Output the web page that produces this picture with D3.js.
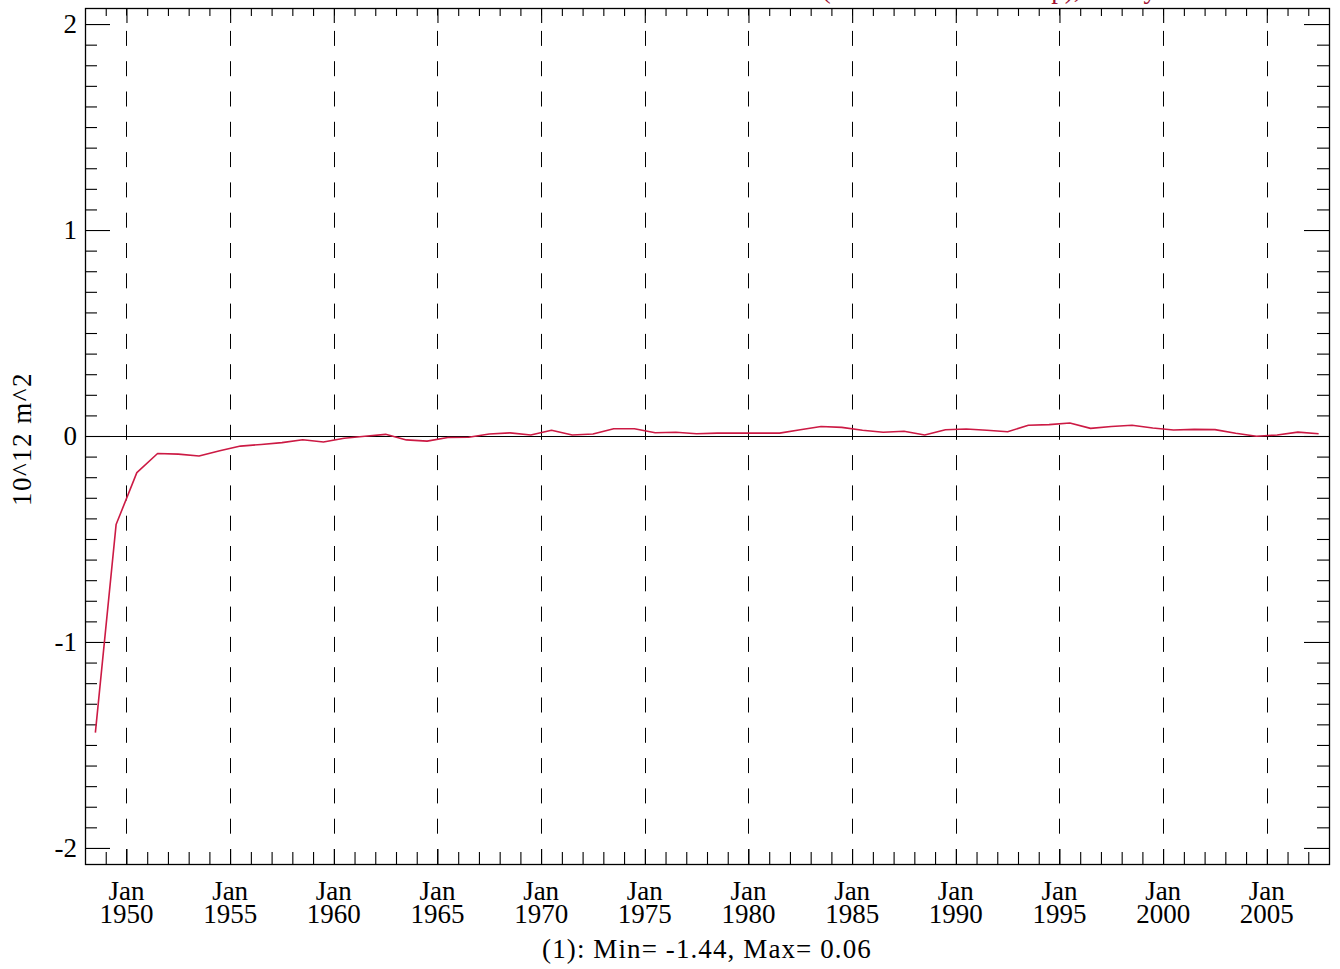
<!DOCTYPE html>
<html>
<head>
<meta charset="utf-8">
<script src="https://cdn.jsdelivr.net/npm/d3@7"></script>
<style>
  html, body { margin: 0; padding: 0; background: #fff; }
  svg { display: block; }
  text { font-family: "Liberation Serif", "DejaVu Serif", serif; fill: #000; }
</style>
</head>
<body>
<svg id="chart" width="1340" height="969"></svg>
<script>
// ---- data ----
const years = [1948,1949,1950,1951,1952,1953,1954,1955,1956,1957,
               1958,1959,1960,1961,1962,1963,1964,1965,1966,1967,
               1968,1969,1970,1971,1972,1973,1974,1975,1976,1977,
               1978,1979,1980,1981,1982,1983,1984,1985,1986,1987,
               1988,1989,1990,1991,1992,1993,1994,1995,1996,1997,
               1998,1999,2000,2001,2002,2003,2004,2005,2006,2007];
const values = [-1.44,-0.43,-0.178,-0.085,-0.088,-0.097,-0.072,-0.049,-0.041,-0.032,
                -0.018,-0.029,-0.011,-0.001,0.008,-0.019,-0.025,-0.007,-0.006,0.010,
                0.015,0.005,0.028,0.005,0.010,0.035,0.035,0.016,0.018,0.011,
                0.014,0.014,0.014,0.014,0.030,0.046,0.042,0.028,0.018,0.023,
                0.005,0.030,0.034,0.028,0.021,0.052,0.055,0.063,0.037,0.046,
                0.052,0.039,0.029,0.032,0.031,0.013,-0.001,0.005,0.019,0.011];
const majorYears = [1950,1955,1960,1965,1970,1975,1980,1985,1990,1995,2000,2005];
const minorYears = [1949,1951,1952,1953,1954,1956,1957,1958,1959,1961,1962,1963,1964,
                    1966,1967,1968,1969,1971,1972,1973,1974,1976,1977,1978,1979,
                    1981,1982,1983,1984,1986,1987,1988,1989,1991,1992,1993,1994,
                    1996,1997,1998,1999,2001,2002,2003,2004,2006,2007];
const yMajor = [-2,-1,0,1,2];
const yMajorLabels = ["-2","-1","0","1","2"];
const yMinor = [-1.9,-1.8,-1.7,-1.6,-1.5,-1.4,-1.3,-1.2,-1.1,
                -0.9,-0.8,-0.7,-0.6,-0.5,-0.4,-0.3,-0.2,-0.1,
                0.1,0.2,0.3,0.4,0.5,0.6,0.7,0.8,0.9,
                1.1,1.2,1.3,1.4,1.5,1.6,1.7,1.8,1.9];
const monthLabel = "Jan";
const yTitle = "10^12 m^2";
const titlePrefix = "Sea Ice Area Difference ";
const titleRest = "(1:ensemble mean exp), Yearly";
const footer = "(1): Min= -1.44, Max= 0.06";

// ---- layout ----
const L = 85, R = 1329, T = 8, B = 864;
const svg = d3.select("#chart");
const x = d3.scaleLinear().domain([1948, 2008]).range([L, R]);
const y = d3.scaleLinear().domain([-2.078, 2.078]).range([B, T]);
const lineColor = "#cc1a44";
const fontSize = 27;

// dashed vertical grid lines at major years
svg.append("g").selectAll("line").data(majorYears).join("line")
  .attr("x1", d => Math.round(x(d)) + 0.5).attr("x2", d => Math.round(x(d)) + 0.5)
  .attr("y1", B).attr("y2", T)
  .attr("stroke", "#000").attr("stroke-width", 1)
  .attr("stroke-dasharray", "15,15.3");

// zero line
svg.append("line")
  .attr("x1", L).attr("x2", R)
  .attr("y1", Math.round(y(0)) + 0.5).attr("y2", Math.round(y(0)) + 0.5)
  .attr("stroke", "#000").attr("stroke-width", 1.2);

// axes helper
function styleAxis(g) {
  g.select(".domain").remove();
  g.selectAll(".tick line").attr("stroke", "#000").attr("stroke-width", 1.1);
  g.selectAll(".tick text").remove();
}
// left
svg.append("g").attr("transform", `translate(${L},0)`)
  .call(d3.axisRight(y).tickValues(yMajor).tickSize(25).tickFormat(""))
  .call(styleAxis);
svg.append("g").attr("transform", `translate(${L},0)`)
  .call(d3.axisRight(y).tickValues(yMinor).tickSize(12).tickFormat(""))
  .call(styleAxis);
// right
svg.append("g").attr("transform", `translate(${R},0)`)
  .call(d3.axisLeft(y).tickValues(yMajor).tickSize(25).tickFormat(""))
  .call(styleAxis);
svg.append("g").attr("transform", `translate(${R},0)`)
  .call(d3.axisLeft(y).tickValues(yMinor).tickSize(12).tickFormat(""))
  .call(styleAxis);
// bottom
svg.append("g").attr("transform", `translate(0,${B})`)
  .call(d3.axisTop(x).tickValues(majorYears).tickSize(15).tickFormat(""))
  .call(styleAxis);
svg.append("g").attr("transform", `translate(0,${B})`)
  .call(d3.axisTop(x).tickValues(minorYears).tickSize(12).tickFormat(""))
  .call(styleAxis);
// top
svg.append("g").attr("transform", `translate(0,${T})`)
  .call(d3.axisBottom(x).tickValues(majorYears).tickSize(15).tickFormat(""))
  .call(styleAxis);
svg.append("g").attr("transform", `translate(0,${T})`)
  .call(d3.axisBottom(x).tickValues(minorYears).tickSize(8).tickFormat(""))
  .call(styleAxis);

// frame
svg.append("rect").attr("x", L + 0.5).attr("y", T + 0.5)
  .attr("width", R - L).attr("height", B - T)
  .attr("fill", "none").attr("stroke", "#000").attr("stroke-width", 1.3);

// y tick labels
svg.append("g").selectAll("text").data(yMajor).join("text")
  .attr("x", 77).attr("y", d => y(d) + 9)
  .attr("text-anchor", "end").attr("font-size", fontSize)
  .text((d, i) => yMajorLabels[i]);

// x tick labels
const xl = svg.append("g").selectAll("g").data(majorYears).join("g")
  .attr("transform", d => `translate(${x(d)},0)`);
xl.append("text").attr("y", 900).attr("text-anchor", "middle")
  .attr("font-size", fontSize).text(monthLabel);
xl.append("text").attr("y", 923).attr("text-anchor", "middle")
  .attr("font-size", fontSize).text(d => String(d));

// y title
svg.append("text")
  .attr("transform", "translate(31,439) rotate(-90)")
  .attr("text-anchor", "middle").attr("font-size", fontSize)
  .attr("letter-spacing", 1.5)
  .text(yTitle);

// footer
svg.append("text").attr("x", 707).attr("y", 958)
  .attr("text-anchor", "middle").attr("font-size", fontSize)
  .attr("letter-spacing", 1.1)
  .text(footer);

// data line
const line = d3.line().x((d, i) => x(years[i] + 0.5)).y(d => y(d));
svg.append("path").datum(values)
  .attr("d", line).attr("fill", "none")
  .attr("stroke", lineColor).attr("stroke-width", 1.6)
  .attr("stroke-linejoin", "round");

// title (mostly cut off at top)
const tmp = svg.append("text").attr("font-size", fontSize).text(titlePrefix);
const pw = tmp.node().getComputedTextLength();
tmp.remove();
svg.append("text").attr("x", 815 - pw).attr("y", -2)
  .attr("font-size", fontSize).style("fill", "#a01032")
  .text(titlePrefix + titleRest);
</script>
</body>
</html>
